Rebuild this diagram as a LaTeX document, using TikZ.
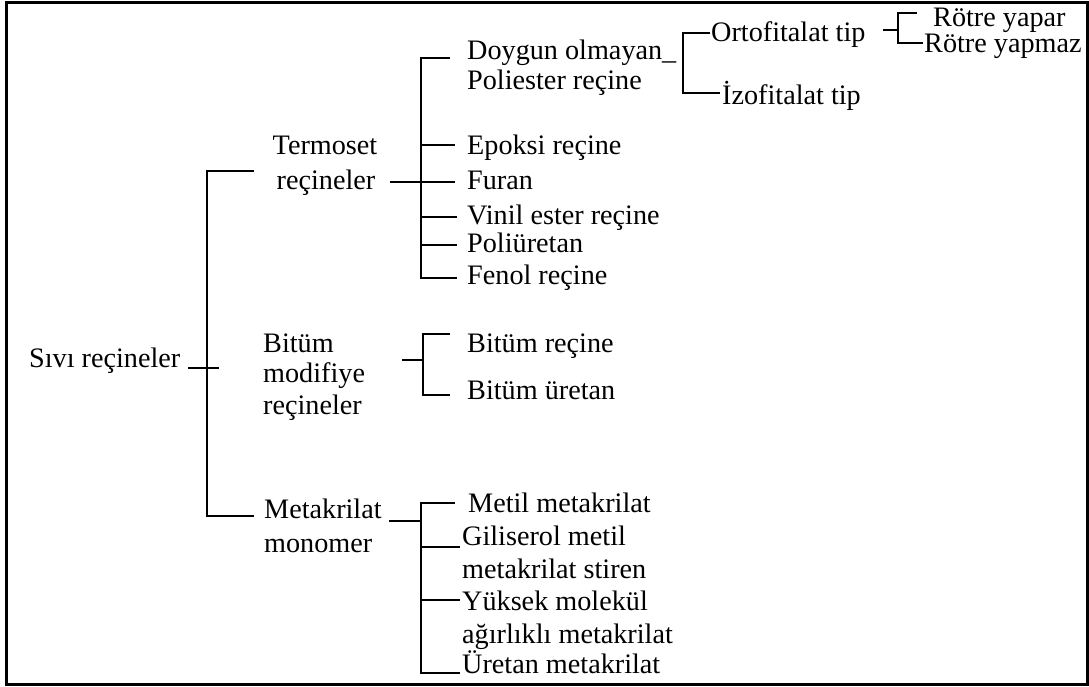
\documentclass[tikz,border=0pt]{standalone}
\usepackage{fontspec}
\setmainfont{Liberation Serif}
\begin{document}
\begin{tikzpicture}[x=1pt,y=-1pt,
  lbl/.style={anchor=base west,inner sep=0pt,font=\fontsize{28.2}{34}\selectfont},
  clbl/.style={lbl,anchor=base},
  link/.style={line width=1.8pt,line cap=butt},
  frame/.style={line width=3pt}]
\useasboundingbox (0,0) rectangle (1089,686);
\draw[frame] (6,2) rectangle (1087,684);

% ---------------- labels ----------------
\node[lbl] (root) at (29,367) {Sıvı reçineler};

\node[clbl] (term1) at (325,154) {Termoset};
\node[clbl] (term2) at (326,189) {reçineler};

\node[lbl] (bit1) at (263,352) {Bitüm};
\node[lbl] (bit2) at (263,382) {modifiye};
\node[lbl] (bit3) at (263,414) {reçineler};

\node[lbl] (met1) at (264,518) {Metakrilat};
\node[lbl] (met2) at (264,552) {monomer};

\node[lbl] (doy1) at (467,59) {Doygun olmayan\_};
\node[lbl] (doy2) at (467,89) {Poliester reçine};
\node[lbl] (epo) at (467,154) {Epoksi reçine};
\node[lbl] (fur) at (467,189) {Furan};
\node[lbl] (vin) at (467,224) {Vinil ester reçine};
\node[lbl] (pol) at (467,252) {Poliüretan};
\node[lbl] (fen) at (467,284) {Fenol reçine};

\node[lbl] (orto) at (711,41) {Ortofitalat tip};
\node[lbl] (izo) at (722,104) {İzofitalat tip};
\node[lbl] (rya) at (933,26) {Rötre yapar};
\node[lbl] (rym) at (924,52) {Rötre yapmaz};

\node[lbl] (bre) at (467,352) {Bitüm reçine};
\node[lbl] (bur) at (467,399) {Bitüm üretan};

\node[lbl] (mm) at (468,512) {Metil metakrilat};
\node[lbl] (gil1) at (462,545) {Giliserol metil};
\node[lbl] (gil2) at (462,578) {metakrilat stiren};
\node[lbl] (yuk1) at (462,610) {Yüksek molekül};
\node[lbl] (yuk2) at (462,643) {ağırlıklı metakrilat};
\node[lbl] (ure) at (462,673) {Üretan metakrilat};

% ---------------- junction points ----------------
% root level
\coordinate (r-a) at (188,368);  \coordinate (r-b) at (219,368);
\coordinate (s-top) at (207,171); \coordinate (s-bot) at (207,516);
\coordinate (t-in) at (254,171); \coordinate (m-in) at (254,516);

% thermoset group
\coordinate (t-a) at (390,182);  \coordinate (t-b) at (455,182);
\coordinate (tb-top) at (421,58); \coordinate (tb-bot) at (421,278);
\coordinate (tb-epo) at (421,145); \coordinate (tb-vin) at (421,217);
\coordinate (tb-pol) at (421,245);
\coordinate (e-doy) at (450,58); \coordinate (e-epo) at (455,145);
\coordinate (e-vin) at (457,217); \coordinate (e-pol) at (457,245);
\coordinate (e-fen) at (457,278);

% polyester sub-types
\coordinate (d-top) at (683,33); \coordinate (d-bot) at (683,93);
\coordinate (e-orto) at (710,33); \coordinate (e-izo) at (720,93);
\coordinate (o-a) at (883,30); \coordinate (o-b) at (898,30);
\coordinate (o-top) at (898,13); \coordinate (o-bot) at (898,43);
\coordinate (e-rya) at (917,13); \coordinate (e-rym) at (923,43);

% bitumen group
\coordinate (b-a) at (402,360); \coordinate (b-b) at (423,360);
\coordinate (bb-top) at (423,334); \coordinate (bb-bot) at (423,395);
\coordinate (e-bre) at (450,334); \coordinate (e-bur) at (450,395);

% methacrylate group
\coordinate (m-a) at (389,521); \coordinate (m-b) at (421,521);
\coordinate (mb-top) at (421,503); \coordinate (mb-bot) at (421,673);
\coordinate (mb-gil) at (421,547); \coordinate (mb-yuk) at (421,600);
\coordinate (e-mm) at (455,503); \coordinate (e-gil) at (460,547);
\coordinate (e-yuk) at (460,600); \coordinate (e-ure) at (460,673);

% ---------------- connectors ----------------
\draw[link] (r-a) -- (r-b);
\draw[link] (t-in) -- (s-top) -- (s-bot) -- (m-in);

\draw[link] (t-a) -- (t-b);
\draw[link] (e-doy) -- (tb-top) -- (tb-bot) -- (e-fen);
\draw[link] (tb-epo) -- (e-epo);
\draw[link] (tb-vin) -- (e-vin);
\draw[link] (tb-pol) -- (e-pol);

\draw[link] (e-orto) -- (d-top) -- (d-bot) -- (e-izo);
\draw[link] (o-a) -- (o-b);
\draw[link] (e-rya) -- (o-top) -- (o-bot) -- (e-rym);

\draw[link] (b-a) -- (b-b);
\draw[link] (e-bre) -- (bb-top) -- (bb-bot) -- (e-bur);

\draw[link] (m-a) -- (m-b);
\draw[link] (e-mm) -- (mb-top) -- (mb-bot) -- (e-ure);
\draw[link] (mb-gil) -- (e-gil);
\draw[link] (mb-yuk) -- (e-yuk);
\end{tikzpicture}
\end{document}
